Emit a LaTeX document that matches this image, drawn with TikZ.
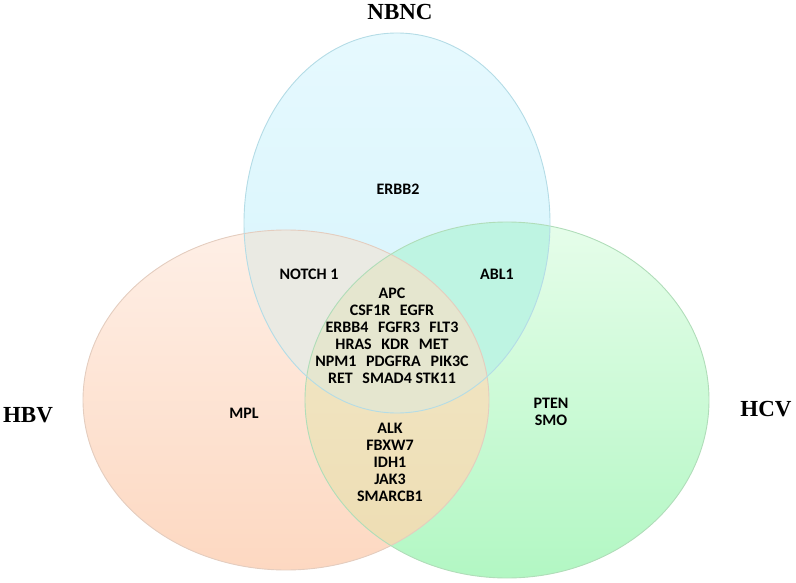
\documentclass[tikz,border=0pt]{standalone}
\usepackage{fontspec}
\setmainfont{Liberation Serif}
\newfontfamily\genefont{Carlito}
\definecolor{nbncTop}{HTML}{E6F9FE}
\definecolor{nbncBot}{HTML}{D4F4FC}
\definecolor{nbncLine}{HTML}{B4DCE6}
\definecolor{hbvTop}{HTML}{FEEFE6}
\definecolor{hbvBot}{HTML}{FDD8C1}
\definecolor{hbvLine}{HTML}{E4CDBF}
\definecolor{hcvTop}{HTML}{E6FDEA}
\definecolor{hcvBot}{HTML}{B2F7C3}
\definecolor{hcvLine}{HTML}{B0DDB9}
\definecolor{nbncHbv}{HTML}{EAEAE3}
\definecolor{nbncHcv}{HTML}{BEF4E2}
\definecolor{hbvHcvTop}{HTML}{F3EACC}
\definecolor{hbvHcvBot}{HTML}{EDDCB1}
\definecolor{allThree}{HTML}{E5E6CF}
\def\nbncset{(397,223) ellipse [x radius=153pt, y radius=190pt]}
\def\hbvset{(286,400) ellipse [x radius=203pt, y radius=170pt]}
\def\hcvset{(507,400) ellipse [x radius=202pt, y radius=178pt]}
\newcommand\gap{\hspace{0.6em}}
\begin{document}
\begin{tikzpicture}[x=1pt,y=-1pt,
  rim/.style={line width=0.9pt},
  gene/.style={font={\genefont\bfseries\fontsize{16}{17}\selectfont},
    align=center, inner sep=0pt},
  setname/.style={font={\bfseries\fontsize{23}{27}\selectfont}, inner sep=0pt}]
  \useasboundingbox (0,0) rectangle (796,583);
  % the three sets
  \shade[top color=hbvTop, bottom color=hbvBot] \hbvset;
  \shade[top color=hcvTop, bottom color=hcvBot] \hcvset;
  \shade[top color=nbncTop, bottom color=nbncBot] \nbncset;
  % pairwise overlaps
  \begin{scope}
    \clip \nbncset;
    \fill[nbncHbv] \hbvset;
    \fill[nbncHcv] \hcvset;
  \end{scope}
  \begin{scope}
    \clip \hbvset;
    \shade[top color=hbvHcvTop, bottom color=hbvHcvBot] \hcvset;
  \end{scope}
  % common part
  \begin{scope}
    \clip \nbncset;
    \clip \hbvset;
    \fill[allThree] \hcvset;
  \end{scope}
  \draw[rim, hbvLine] \hbvset;
  \draw[rim, hcvLine] \hcvset;
  \draw[rim, nbncLine] \nbncset;
  % set names
  \node[setname] (nbnc) at (400,12) {NBNC};
  \node[setname] (hbv) at (28,415) {HBV};
  \node[setname] (hcv) at (766,409) {HCV};
  % genes
  \node[gene] (erbb2) at (398,189) {ERBB2};
  \node[gene] (notch) at (309,274) {NOTCH 1};
  \node[gene] (abl) at (497,274) {ABL1};
  \node[gene] (mpl) at (244,413) {MPL};
  \node[gene] (pten) at (551,412) {PTEN\\SMO};
  \node[gene] (core) at (392,335.5) {APC\\
    CSF1R\gap EGFR\\
    ERBB4\gap FGFR3\gap FLT3\\
    HRAS\gap KDR\gap MET\\
    NPM1\gap PDGFRA\gap PIK3C\\
    RET\gap SMAD4 STK11};
  \node[gene] (lower) at (390,462.5) {ALK\\FBXW7\\IDH1\\JAK3\\SMARCB1};
\end{tikzpicture}
\end{document}
